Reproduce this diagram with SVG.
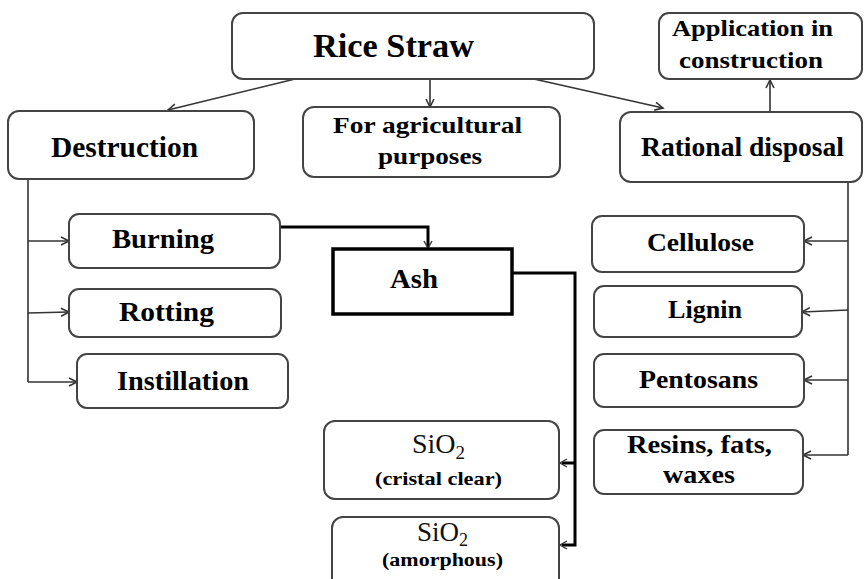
<svg xmlns="http://www.w3.org/2000/svg" width="864" height="579" viewBox="0 0 864 579">
<style>
.box{fill:#fff;stroke:#444;stroke-width:2}
.ash{fill:#fff;stroke:#000;stroke-width:3.5}
.t{font-family:"Liberation Serif","Times New Roman",serif;font-weight:bold;fill:#000}
.r{font-family:"Liberation Serif","Times New Roman",serif;font-weight:normal;fill:#111}
.c{fill:none;stroke:#333;stroke-width:1.6}
.ct{fill:none;stroke:#000;stroke-width:3}
</style>
<defs>
<marker id="ah" markerUnits="userSpaceOnUse" markerWidth="12" markerHeight="12" refX="9" refY="5" orient="auto">
<path d="M1,1 L9,5 L1,9" fill="none" stroke="#333" stroke-width="1.6"/>
</marker>
</defs>
<rect width="864" height="579" fill="#fff"/>
<g id="connectors">
<line class="c" x1="295" y1="79" x2="168" y2="110" marker-end="url(#ah)"/>
<line class="c" x1="430" y1="79" x2="430" y2="107" marker-end="url(#ah)"/>
<line class="c" x1="525" y1="77" x2="663" y2="108" marker-end="url(#ah)"/>
<line class="c" x1="770" y1="112" x2="770" y2="80" marker-end="url(#ah)"/>
<line class="c" x1="28" y1="179" x2="28" y2="382"/>
<line class="c" x1="28" y1="241" x2="69" y2="241" marker-end="url(#ah)"/>
<line class="c" x1="28" y1="313" x2="69" y2="312" marker-end="url(#ah)"/>
<line class="c" x1="28" y1="382" x2="77" y2="382" marker-end="url(#ah)"/>
<polyline class="ct" points="280,227 428,227 428,247"/>
<path d="M424,241 L428,248 L432,241" fill="none" stroke="#333" stroke-width="1.4"/>
<polyline class="ct" points="512,273 575,273 575,545 562,545"/>
<line class="ct" x1="575" y1="463" x2="562" y2="463"/>
<path d="M567,459 L560,463 L567,467" fill="none" stroke="#333" stroke-width="1.4"/>
<path d="M567,541 L560,545 L567,549" fill="none" stroke="#333" stroke-width="1.4"/>
<line class="c" x1="848" y1="182" x2="848" y2="455"/>
<line class="c" x1="848" y1="241" x2="804" y2="241" marker-end="url(#ah)"/>
<line class="c" x1="848" y1="310" x2="802" y2="312" marker-end="url(#ah)"/>
<line class="c" x1="848" y1="380" x2="804" y2="380" marker-end="url(#ah)"/>
<line class="c" x1="848" y1="455" x2="803" y2="455" marker-end="url(#ah)"/>
</g>
<g id="rice-straw">
<rect class="box" x="232" y="13" width="362" height="66" rx="11"/>
<text class="t" x="313" y="57" font-size="33" textLength="161" lengthAdjust="spacingAndGlyphs">Rice Straw</text>
</g>
<g id="destruction">
<rect class="box" x="8" y="111" width="246" height="68" rx="11"/>
<text class="t" x="51" y="157" font-size="29" textLength="147" lengthAdjust="spacingAndGlyphs">Destruction</text>
</g>
<g id="agricultural">
<rect class="box" x="303" y="107" width="257" height="70" rx="11"/>
<text class="t" x="333" y="133" font-size="24" textLength="189" lengthAdjust="spacingAndGlyphs">For agricultural</text>
<text class="t" x="378" y="164" font-size="24" textLength="104" lengthAdjust="spacingAndGlyphs">purposes</text>
</g>
<g id="rational">
<rect class="box" x="620" y="112" width="242" height="70" rx="11"/>
<text class="t" x="641" y="156" font-size="27" textLength="203" lengthAdjust="spacingAndGlyphs">Rational disposal</text>
</g>
<g id="application">
<rect class="box" x="659" y="13" width="203" height="66" rx="10"/>
<text class="t" x="672" y="36" font-size="23" textLength="161" lengthAdjust="spacingAndGlyphs">Application in</text>
<text class="t" x="679" y="68" font-size="23" textLength="144" lengthAdjust="spacingAndGlyphs">construction</text>
</g>
<g id="burning">
<rect class="box" x="69" y="214" width="211" height="54" rx="10"/>
<text class="t" x="112" y="248" font-size="28" textLength="102" lengthAdjust="spacingAndGlyphs">Burning</text>
</g>
<g id="rotting">
<rect class="box" x="69" y="289" width="212" height="48" rx="10"/>
<text class="t" x="119" y="321" font-size="28" textLength="95" lengthAdjust="spacingAndGlyphs">Rotting</text>
</g>
<g id="instillation">
<rect class="box" x="77" y="354" width="211" height="54" rx="10"/>
<text class="t" x="117" y="390" font-size="28" textLength="132" lengthAdjust="spacingAndGlyphs">Instillation</text>
</g>
<g id="ash">
<rect class="ash" x="333" y="249" width="179" height="65"/>
<text class="t" x="390" y="288" font-size="27" textLength="48" lengthAdjust="spacingAndGlyphs">Ash</text>
</g>
<g id="cellulose">
<rect class="box" x="592" y="216" width="212" height="56" rx="10"/>
<text class="t" x="647" y="251" font-size="26" textLength="107" lengthAdjust="spacingAndGlyphs">Cellulose</text>
</g>
<g id="lignin">
<rect class="box" x="594" y="286" width="208" height="51" rx="10"/>
<text class="t" x="668" y="318" font-size="26" textLength="74" lengthAdjust="spacingAndGlyphs">Lignin</text>
</g>
<g id="pentosans">
<rect class="box" x="594" y="354" width="210" height="53" rx="10"/>
<text class="t" x="639" y="388" font-size="25" textLength="119" lengthAdjust="spacingAndGlyphs">Pentosans</text>
</g>
<g id="resins">
<rect class="box" x="594" y="430" width="209" height="64" rx="10"/>
<text class="t" x="627" y="453" font-size="25" textLength="145" lengthAdjust="spacingAndGlyphs">Resins, fats,</text>
<text class="t" x="663" y="483" font-size="25" textLength="72" lengthAdjust="spacingAndGlyphs">waxes</text>
</g>
<g id="sio2-crystal">
<rect class="box" x="324" y="421" width="235" height="78" rx="11"/>
<text class="r" x="412" y="453" font-size="28">SiO<tspan font-size="19" dy="6">2</tspan></text>
<text class="t" x="375" y="485" font-size="19" textLength="127" lengthAdjust="spacingAndGlyphs">(cristal clear)</text>
</g>
<g id="sio2-amorphous">
<rect class="box" x="332" y="517" width="227" height="80" rx="11"/>
<text class="r" x="417" y="541" font-size="27">SiO<tspan font-size="18" dy="5">2</tspan></text>
<text class="t" x="382" y="566" font-size="18" textLength="121" lengthAdjust="spacingAndGlyphs">(amorphous)</text>
</g>
</svg>
